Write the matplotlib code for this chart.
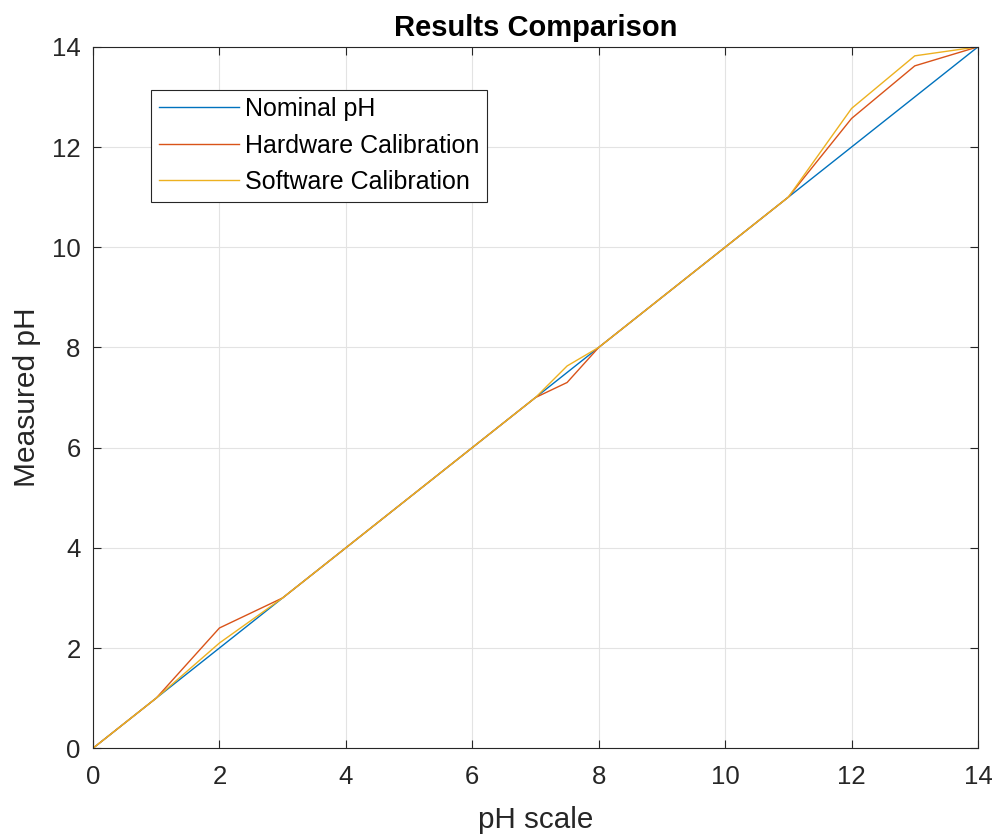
import matplotlib
matplotlib.use("Agg")
import matplotlib.pyplot as plt

x_vals = [0, 1, 2, 3, 4, 5, 6, 7, 7.5, 8, 9, 10, 11, 12, 13, 14]
nominal = [0, 1, 2, 3, 4, 5, 6, 7, 7.5, 8, 9, 10, 11, 12, 13, 14]
hardware = [0, 1, 2.4, 3, 4, 5, 6, 7, 7.3, 8, 9, 10, 11, 12.57, 13.62, 14]
software = [0, 1, 2.1, 3, 4, 5, 6, 7, 7.63, 8, 9, 10, 11, 12.77, 13.82, 14]
labels = ["Nominal pH", "Hardware Calibration", "Software Calibration"]
xticks = [0, 2, 4, 6, 8, 10, 12, 14]
yticks = [0, 2, 4, 6, 8, 10, 12, 14]

plt.rcParams['font.family'] = ['Liberation Sans', 'DejaVu Sans']

fig = plt.figure(figsize=(10, 8.36), dpi=100)
ax = fig.add_axes([0.093, 0.105, 0.885, 0.839])

colors = ["#0072BD", "#D95319", "#EDB120"]
for ys, c, lab in zip([nominal, hardware, software], colors, labels):
    ax.plot(x_vals, ys, color=c, lw=1.0, label=lab)

ax.set_xlim(0, 14)
ax.set_ylim(0, 14)
ax.set_xticks(xticks)
ax.set_yticks(yticks)
ax.grid(True, color="#e3e3e3", lw=0.8)
ax.set_axisbelow(True)
ax.tick_params(direction="in", top=True, right=True, labelsize=18.5, colors="#262626", length=6)
ax.tick_params(axis="x", pad=12)
ax.tick_params(axis="y", pad=9)
for s in ax.spines.values():
    s.set_color("#262626")
    s.set_linewidth(0.8)
ax.set_xlabel("pH scale", fontsize=21.3, color="#262626", labelpad=12)
ax.set_ylabel("Measured pH", fontsize=21.5, color="#262626", labelpad=8)
ax.set_title("Results Comparison", fontsize=21, fontweight="bold", pad=8)

leg = ax.legend(loc="upper left", bbox_to_anchor=(0.066, 0.939), fontsize=18,
                handlelength=3.2, borderaxespad=0, fancybox=False, framealpha=1,
                edgecolor="#262626", labelspacing=0.5, handletextpad=0.25, borderpad=0.3)
leg.get_frame().set_linewidth(0.8)

fig.savefig("out.png", dpi=100)
